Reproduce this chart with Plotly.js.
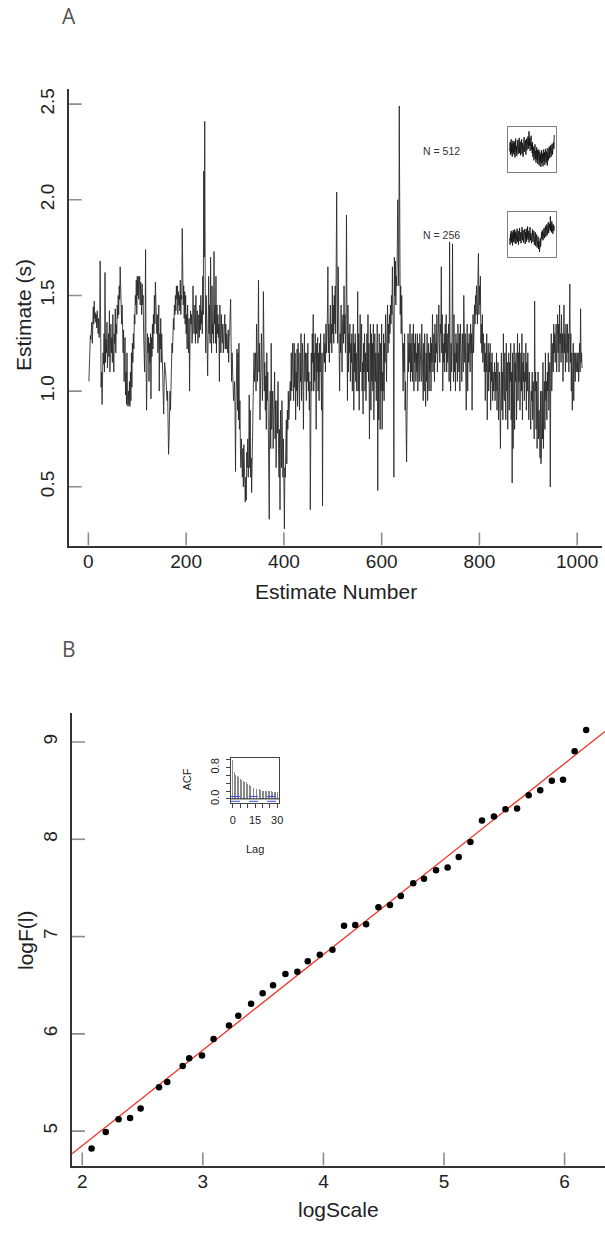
<!DOCTYPE html>
<html>
<head>
<meta charset="utf-8">
<script src="https://cdn.plot.ly/plotly-3.0.1.min.js"></script>
<style>
  html, body { margin: 0; padding: 0; background: #fff; }
  #chart { width: 605px; height: 1237px; }
</style>
</head>
<body>
<div id="chart"></div>
<script>
// ---------- Panel A: estimates over time ----------
const estimates = [
1.05,1.15,1.22,1.29,1.27,1.30,1.36,1.25,1.40,1.44,
1.35,1.47,1.38,1.41,1.36,1.40,1.33,1.42,1.35,1.30,
1.38,1.28,1.32,1.68,1.30,1.02,1.10,0.93,1.12,1.20,
1.14,1.30,1.10,1.62,1.15,1.27,1.20,1.36,1.12,1.24,
1.30,1.18,1.42,1.10,1.25,1.35,1.20,1.28,1.15,1.40,
1.22,1.10,1.30,1.25,1.43,1.20,1.35,1.30,1.45,1.38,
1.50,1.40,1.55,1.48,1.65,1.52,1.40,1.35,1.45,1.30,
1.20,1.32,1.05,1.15,1.28,0.98,1.10,0.93,1.20,0.95,
0.92,1.00,0.93,1.05,0.92,1.10,0.95,1.20,1.02,1.25,
1.15,1.30,1.22,1.40,1.35,1.50,1.45,1.58,1.40,1.60,
1.50,1.60,1.48,1.55,1.60,1.45,1.57,1.52,1.40,1.56,
1.45,1.50,1.30,1.20,1.10,1.35,1.74,1.15,0.90,1.10,
1.30,1.20,1.28,1.05,1.25,1.15,1.30,0.96,1.28,1.18,
1.35,1.22,1.40,1.30,1.50,1.35,1.57,1.45,1.50,1.30,
1.40,1.20,1.25,1.45,1.00,1.30,1.22,1.38,1.15,1.30,
1.20,1.15,1.10,0.88,1.05,1.15,1.12,1.10,1.00,1.05,
0.95,1.00,0.90,0.67,0.75,0.85,1.00,0.90,1.10,1.05,
1.25,1.20,1.30,1.38,1.32,1.45,1.40,1.50,1.42,1.55,
1.48,1.55,1.40,1.52,1.45,1.50,1.42,1.58,1.40,1.50,
1.48,1.85,1.50,1.45,1.55,1.38,1.52,1.35,1.50,1.30,
1.40,1.22,1.45,1.30,1.20,1.38,1.00,1.30,1.42,1.35,
1.40,1.25,1.30,1.55,1.38,1.30,1.35,1.45,1.25,1.50,
1.30,1.38,1.42,1.25,1.35,1.40,1.28,1.45,1.32,1.50,
1.35,1.42,1.30,1.60,1.40,2.15,1.70,2.41,1.60,1.20,
1.50,1.25,1.32,1.08,1.30,1.60,1.30,1.45,1.25,1.70,
1.40,1.20,1.55,1.30,1.35,1.25,1.73,1.35,1.45,1.25,
1.60,1.20,1.45,1.30,1.40,1.28,1.35,1.05,1.45,1.30,
1.20,1.40,1.30,1.25,1.35,1.20,1.30,1.28,1.40,1.22,
1.35,1.22,1.30,1.25,1.20,1.32,1.15,1.28,1.30,1.40,
1.48,1.25,1.05,1.20,1.10,1.15,0.95,1.00,1.05,0.90,
0.58,0.95,1.05,1.22,0.90,1.20,0.85,1.25,0.80,0.95,
0.70,0.60,0.75,0.65,0.55,0.70,0.50,0.72,0.60,0.45,
0.42,0.55,0.43,0.68,0.60,0.75,0.55,0.62,0.98,0.60,
0.90,0.55,0.65,0.47,0.70,0.95,1.00,1.10,1.20,1.05,
1.10,1.20,1.00,1.35,1.15,1.05,1.20,1.58,1.10,1.25,
0.85,1.10,1.00,1.30,1.15,0.95,1.05,1.52,1.10,1.00,
1.15,0.90,1.08,0.80,1.20,0.95,1.10,0.70,0.85,0.33,
0.85,1.00,0.70,1.25,0.80,0.95,1.00,0.70,0.90,0.85,
1.10,0.75,0.95,0.60,0.85,0.95,0.78,1.05,0.70,0.55,
0.80,0.38,0.90,0.80,0.60,0.95,0.70,0.55,0.75,0.45,
0.28,0.60,0.55,0.75,0.85,0.62,0.90,0.80,1.00,0.85,
0.90,1.00,1.05,0.95,1.20,1.00,1.10,1.25,1.05,0.95,
1.25,1.02,1.20,0.85,1.10,1.00,1.22,0.92,1.25,1.08,
1.15,0.90,1.20,1.05,1.30,0.95,1.10,1.25,1.00,0.80,
1.15,1.30,1.05,1.20,1.10,0.95,1.20,1.05,1.25,1.00,
1.10,0.90,1.05,0.38,1.10,1.20,1.00,1.30,1.15,1.40,
1.00,1.20,1.05,1.30,1.15,0.80,1.25,1.10,1.28,1.00,
1.20,0.95,1.25,1.10,1.30,1.05,0.90,1.20,0.40,1.10,
1.20,1.30,1.15,1.25,1.10,1.35,1.20,1.28,1.40,1.65,
1.20,1.35,1.15,1.30,1.45,1.25,1.35,1.20,1.55,1.30,
1.45,1.25,1.50,1.35,1.55,1.30,1.60,2.04,1.50,1.25,
1.65,1.40,1.25,1.00,1.30,1.20,1.45,1.30,1.10,1.35,
1.40,1.25,1.55,1.30,1.40,1.20,1.35,1.92,1.30,0.95,
1.45,1.10,1.30,1.20,1.35,1.05,1.25,1.15,1.30,1.00,
1.20,1.35,0.90,1.25,1.10,1.30,1.05,1.20,1.00,1.15,
1.52,1.00,1.30,0.90,1.25,1.40,1.10,1.20,1.35,1.00,
1.15,0.88,1.25,1.10,1.30,1.00,1.20,0.95,1.15,1.30,
1.10,1.40,1.05,1.25,0.75,1.20,1.35,0.90,1.30,1.05,
1.25,1.00,1.35,0.85,1.15,1.30,1.05,1.20,0.95,1.10,
1.35,0.48,1.20,0.85,1.30,1.10,0.80,1.25,1.00,1.35,
0.80,1.10,1.00,1.30,0.95,1.25,1.15,1.40,1.20,1.05,
1.30,1.45,1.20,1.35,1.25,1.40,1.30,1.45,1.35,1.50,
1.40,1.65,1.45,1.30,0.55,1.70,1.50,1.68,1.45,1.60,
1.55,1.75,2.00,1.70,1.55,2.49,1.60,1.40,1.55,1.30,
1.50,1.20,1.35,1.00,1.25,1.10,1.30,0.90,1.05,0.80,
0.63,0.90,1.20,1.30,1.10,1.25,1.15,1.35,1.05,1.25,
1.10,1.30,1.05,1.20,1.35,1.00,1.25,1.15,1.30,1.05,
1.20,1.10,1.30,1.00,1.25,1.15,1.05,1.30,1.15,1.20,
1.05,1.35,1.10,1.20,0.95,1.25,1.00,1.30,1.15,0.92,
1.20,1.05,1.30,0.95,1.15,1.25,1.00,1.20,1.10,1.28,
1.00,1.25,1.15,1.40,1.10,1.20,1.30,1.05,1.35,1.15,
1.25,1.20,1.40,1.10,1.30,1.20,1.45,1.25,1.15,1.35,
1.30,1.65,1.20,1.40,1.00,1.25,1.15,1.30,1.10,1.35,
1.20,1.40,1.10,1.30,1.15,1.25,1.35,1.05,1.78,1.20,
1.00,1.25,1.10,1.30,1.77,1.20,1.05,1.40,1.10,1.20,
1.00,1.30,1.15,1.25,1.05,1.35,1.20,1.10,1.30,1.00,
1.35,1.15,1.25,1.05,1.30,1.20,1.10,1.50,1.25,1.15,
1.30,1.10,0.90,1.20,1.35,1.00,1.25,1.15,1.30,1.20,
1.10,1.35,1.20,1.30,0.90,1.25,1.40,1.20,1.30,1.45,
1.35,1.50,1.40,1.55,1.45,1.35,1.60,1.72,1.40,1.55,
1.45,1.60,1.25,1.35,1.20,1.40,1.15,1.30,1.20,1.10,
1.25,0.95,1.20,1.10,1.30,0.85,1.15,1.25,1.00,1.20,
1.10,1.25,0.90,1.15,1.05,1.20,0.95,1.10,1.00,1.05,
1.15,0.95,1.10,1.00,1.20,0.90,1.05,1.15,0.85,1.00,
1.10,0.95,0.70,1.00,1.20,0.90,1.10,0.85,1.30,1.00,
0.95,1.20,1.10,0.85,1.25,1.00,1.15,0.80,1.10,1.20,
0.90,1.15,1.05,1.25,0.85,1.10,0.52,1.20,0.70,1.00,
1.25,0.80,1.15,1.05,1.20,0.85,1.10,1.30,0.95,1.20,
1.05,1.25,0.90,1.10,1.20,1.00,1.30,0.85,1.15,1.05,
1.20,0.95,1.10,1.05,1.25,0.90,1.15,1.00,1.20,1.05,
0.85,1.10,1.00,1.05,0.80,1.00,0.95,1.10,0.85,1.05,
1.00,0.75,1.47,1.00,1.10,0.80,1.05,0.70,0.95,1.10,
0.75,0.90,0.80,0.65,1.00,0.62,0.70,1.00,0.75,1.15,
0.70,0.95,1.05,0.80,1.20,0.95,1.05,0.85,1.10,1.00,
1.20,0.90,1.05,1.15,0.50,1.10,1.30,1.00,1.15,1.25,
1.10,1.35,1.20,1.30,1.15,1.25,1.35,1.10,1.30,1.40,
1.20,1.35,1.10,1.45,1.25,1.30,1.15,1.40,1.20,1.30,
1.05,1.25,1.45,1.20,1.30,1.10,1.35,1.25,1.15,1.35,
1.20,1.30,1.10,1.25,1.56,1.15,1.30,1.00,1.20,0.90,
1.10,1.25,0.95,1.20,1.15,1.05,1.20,1.10,1.15,1.20,
1.10,1.20,1.05,1.15,1.25,1.10,1.43,1.15,1.20,1.12
];
const estimateNumber = estimates.map((_, i) => i + 1);
const xTicksA = [0, 200, 400, 600, 800, 1000];
const yTicksA = [0.5, 1.0, 1.5, 2.0, 2.5];
const yTickTextA = ["0.5", "1.0", "1.5", "2.0", "2.5"];

// mini insets (sub-series, arbitrary units)
const sub512 = [
0.45,0.70,0.35,0.62,0.78,0.40,0.66,0.30,0.58,0.74,0.42,0.68,0.36,0.72,0.50,0.28,
0.64,0.80,0.44,0.60,0.32,0.70,0.52,0.76,0.38,0.66,0.48,0.82,0.40,0.58,0.72,0.34,
0.62,0.46,0.78,0.38,0.68,0.54,0.30,0.72,0.60,0.84,0.44,0.66,0.50,0.76,0.36,0.64,
0.80,0.48,0.70,0.58,0.86,0.52,0.74,1.00,0.60,0.82,0.46,0.72,0.56,0.88,0.50,0.66,
0.40,0.70,0.30,0.58,0.44,0.20,0.52,0.36,0.64,0.24,0.46,0.14,0.40,0.56,0.22,0.48,
0.10,0.38,0.26,0.50,0.06,0.32,0.44,0.16,0.36,0.02,0.30,0.48,0.12,0.40,0.22,0.04,
0.34,0.50,0.18,0.42,0.08,0.36,0.26,0.52,0.14,0.44,0.30,0.06,0.40,0.54,0.20,0.46,
0.32,0.58,0.26,0.50,0.38,0.62,0.30,0.56,0.44,0.66,0.36,0.60,0.48,0.70,0.52,0.90
];
const sub256 = [
0.40,0.22,0.52,0.34,0.60,0.28,0.46,0.56,0.20,0.44,0.62,0.30,0.50,0.38,0.64,0.26,
0.48,0.58,0.24,0.54,0.36,0.66,0.30,0.46,0.60,0.22,0.50,0.40,0.68,0.32,0.56,0.44,
0.26,0.58,0.42,0.70,0.34,0.52,0.62,0.28,0.48,0.36,0.64,0.46,0.24,0.56,0.40,0.66,
0.30,0.52,0.44,0.72,0.36,0.60,0.48,0.28,0.62,0.40,0.70,0.34,0.54,0.46,0.26,0.58,
0.42,0.64,0.30,0.50,0.38,0.60,0.22,0.46,0.34,0.56,0.18,0.40,0.28,0.50,0.14,0.36,
0.24,0.44,0.10,0.32,0.20,0.02,0.28,0.40,0.16,0.48,0.30,0.56,0.38,0.62,0.44,0.34,
0.58,0.46,0.68,0.40,0.62,0.52,0.74,0.44,0.66,0.56,0.78,0.48,0.70,0.60,0.84,0.54,
0.72,0.58,0.80,0.64,1.00,0.60,0.76,0.56,0.86,0.62,0.70,0.52,0.78,0.66,0.60,0.74
];
const subLabels = ["N = 512", "N = 256"];

// ---------- Panel B: fluctuation function ----------
const logScale = [2.077,2.195,2.301,2.397,2.484,2.637,2.705,2.833,2.887,2.993,
3.089,3.217,3.294,3.400,3.496,3.582,3.685,3.784,3.870,3.970,
4.075,4.171,4.264,4.354,4.456,4.552,4.642,4.745,4.834,4.934,
5.030,5.122,5.219,5.315,5.414,5.510,5.606,5.702,5.798,5.894,
5.987,6.083,6.179];
const logF = [4.821,4.992,5.123,5.135,5.234,5.452,5.504,5.671,5.750,5.778,
5.948,6.087,6.187,6.310,6.417,6.500,6.615,6.639,6.746,6.813,
6.865,7.111,7.119,7.127,7.302,7.325,7.417,7.548,7.595,7.683,
7.710,7.817,7.972,8.194,8.234,8.310,8.317,8.452,8.504,8.603,
8.611,8.905,9.123];
const fitIntercept = 2.887;
const fitSlope = 0.982;
const xTicksB = [2, 3, 4, 5, 6];
const yTicksB = [5, 6, 7, 8, 9];

// ACF inset
const acfLag = Array.from({length: 31}, (_, i) => i);
const acfValue = [1.00,0.68,0.62,0.58,0.55,0.52,0.49,0.46,0.44,0.42,
0.39,0.36,0.33,0.31,0.29,0.28,0.26,0.25,0.24,0.22,
0.21,0.20,0.20,0.20,0.19,0.19,0.20,0.18,0.17,0.17,0.18];
const acfConf = 0.062;

// ---------- layout helpers ----------
const W = 605, H = 1237;
const px = v => v / W;
const py = v => 1 - v / H;

const FONT = "Liberation Sans, Arial, sans-serif";
const INK = "#222";
const TICK_LEN = 13;

const domA = {x: [68.7, 602], y: [88.8, 545.5]};
const domB = {x: [72, 605], y: [713.4, 1165.5]};

const xRangeA = [-40.3, 1050.8];
const yRangeA = [0.193, 2.58];
const xRangeB = [1.915, 6.335];
const yRangeB = [4.647, 9.294];

const mainAxis = {
  showgrid: false, zeroline: false, showline: true, linecolor: "#333", linewidth: 2,
  ticks: "", tickfont: {family: FONT, size: 19, color: INK}, layer: "above traces"
};
const blankAxis = {showgrid:false, zeroline:false, showticklabels:false, ticks:"",
  showline:true, mirror:true, linecolor:"#808080", linewidth:1};

function label(text, x, y, size, opts) {
  return Object.assign({text: text, xref: "paper", yref: "paper", x: px(x), y: py(y),
    xanchor: "center", yanchor: "middle", showarrow: false,
    font: {family: FONT, size: size, color: INK}}, opts || {});
}

// inward tick marks (R style) drawn as a line trace at each axis' tick values
function inwardTickTrace(xname, yname, xticks, yticks, xr, yr, dom) {
  const dy = TICK_LEN * (yr[1] - yr[0]) / (dom.y[1] - dom.y[0]);
  const dx = TICK_LEN * (xr[1] - xr[0]) / (dom.x[1] - dom.x[0]);
  const xs = [], ys = [];
  xticks.forEach(v => { xs.push(v, v, null); ys.push(yr[0], yr[0] + dy, null); });
  yticks.forEach(v => { xs.push(xr[0], xr[0] + dx, null); ys.push(v, v, null); });
  return {x: xs, y: ys, xaxis: xname, yaxis: yname, type: "scatter", mode: "lines",
    line: {color: "#8c8c8c", width: 1.6}, cliponaxis: false, hoverinfo: "skip", connectgaps: false};
}

const traces = [
  {x: estimateNumber, y: estimates, xaxis: "x", yaxis: "y", type: "scatter", mode: "lines",
   line: {color: "#262626", width: 0.85}, hoverinfo: "skip"},
  inwardTickTrace("x", "y", xTicksA, yTicksA, xRangeA, yRangeA, domA),
  {x: sub512.map((_, i) => i + 1), y: sub512, xaxis: "x2", yaxis: "y2", type: "scatter", mode: "lines",
   line: {color: "#111", width: 0.9}, hoverinfo: "skip"},
  {x: sub256.map((_, i) => i + 1), y: sub256, xaxis: "x3", yaxis: "y3", type: "scatter", mode: "lines",
   line: {color: "#111", width: 0.9}, hoverinfo: "skip"},
  {x: xRangeB, y: xRangeB.map(v => fitIntercept + fitSlope * v), xaxis: "x4", yaxis: "y4",
   type: "scatter", mode: "lines", line: {color: "#ee3324", width: 1.3}, hoverinfo: "skip"},
  {x: logScale, y: logF, xaxis: "x4", yaxis: "y4", type: "scatter", mode: "markers",
   marker: {color: "#000", size: 6.5}, hoverinfo: "skip"},
  inwardTickTrace("x4", "y4", xTicksB, yTicksB, xRangeB, yRangeB, domB),
  {x: acfLag, y: acfValue, xaxis: "x5", yaxis: "y5", type: "bar", width: 0.6,
   marker: {color: "#8a8a8a", line: {width: 0}}, hoverinfo: "skip"}
];

const layout = {
  width: W, height: H,
  margin: {l: 0, r: 0, t: 0, b: 0},
  paper_bgcolor: "#fff", plot_bgcolor: "rgba(0,0,0,0)",
  showlegend: false,
  xaxis: Object.assign({}, mainAxis, {domain: [px(domA.x[0]), px(domA.x[1])], range: xRangeA, anchor: "y",
    tickvals: xTicksA, ticklabelstandoff: -2}),
  yaxis: Object.assign({}, mainAxis, {domain: [py(domA.y[1]), py(domA.y[0])], range: yRangeA, anchor: "x",
    tickvals: yTicksA, ticktext: yTickTextA, tickangle: -90, ticklabelstandoff: 5}),
  xaxis2: Object.assign({}, blankAxis, {domain: [px(508), px(556)], range: [-4, sub512.length + 5], anchor: "y2"}),
  yaxis2: Object.assign({}, blankAxis, {domain: [py(172), py(127)], range: [-0.12, 1.12], anchor: "x2"}),
  xaxis3: Object.assign({}, blankAxis, {domain: [px(508), px(556)], range: [-4, sub256.length + 5], anchor: "y3"}),
  yaxis3: Object.assign({}, blankAxis, {domain: [py(257), py(212)], range: [-0.12, 1.12], anchor: "x3"}),
  xaxis4: Object.assign({}, mainAxis, {domain: [px(domB.x[0]), 1], range: xRangeB, anchor: "y4",
    tickvals: xTicksB, ticklabelstandoff: -2}),
  yaxis4: Object.assign({}, mainAxis, {domain: [py(domB.y[1]), py(domB.y[0])], range: yRangeB, anchor: "x4",
    tickvals: yTicksB, tickangle: -90, ticklabelstandoff: 5}),
  xaxis5: {domain: [px(231), px(279)], range: [-1.2, 31.2], anchor: "y5",
    showgrid: false, zeroline: false, showline: true, mirror: true, linecolor: "#444", linewidth: 1,
    ticks: "outside", ticklen: 4, tickcolor: "#444", tickwidth: 1,
    tickvals: [0, 5, 10, 15, 20, 25, 30], ticktext: ["0", "", "", "15", "", "", "30"],
    tickfont: {family: FONT, size: 11, color: INK}, ticklabelstandoff: 3},
  yaxis5: {domain: [py(803), py(758)], range: [-0.105, 1.043], anchor: "x5",
    showgrid: false, zeroline: false, showline: true, mirror: true, linecolor: "#444", linewidth: 1,
    ticks: "outside", ticklen: 4, tickcolor: "#444", tickwidth: 1,
    tickvals: [0, 0.2, 0.4, 0.6, 0.8, 1.0], ticktext: ["0.0", "", "", "", "0.8", ""],
    tickangle: -90, tickfont: {family: FONT, size: 11, color: INK}, ticklabelstandoff: 3},
  bargap: 0,
  shapes: [
    {type: "line", xref: "x5 domain", yref: "y5", x0: 0, x1: 1, y0: 0, y1: 0, line: {color: "#222", width: 1}},
    {type: "line", xref: "x5 domain", yref: "y5", x0: 0, x1: 1, y0: acfConf, y1: acfConf, line: {color: "#3b4cff", width: 1, dash: "dash"}},
    {type: "line", xref: "x5 domain", yref: "y5", x0: 0, x1: 1, y0: -acfConf, y1: -acfConf, line: {color: "#3b4cff", width: 1, dash: "dash"}}
  ],
  annotations: [
    label("A", 69, 16, 21, {font: {family: "Open Sans, sans-serif", size: 21, color: "#555"}}),
    label("B", 68.5, 648.5, 21, {font: {family: "Open Sans, sans-serif", size: 21, color: "#555"}}),
    label("Estimate (s)", 23, 315, 21, {textangle: -90}),
    label("Estimate Number", 336, 591, 21),
    label("logF(l)", 25.5, 939.5, 21, {textangle: -90}),
    label("logScale", 338, 1209, 21),
    label(subLabels[0], 421, 151.5, 10.5, {xanchor: "left", font: {family: FONT, size: 10.5, color: "#333"}}),
    label(subLabels[1], 421, 234.7, 10.5, {xanchor: "left", font: {family: FONT, size: 10.5, color: "#333"}}),
    label("ACF", 187, 779.6, 11, {textangle: -90}),
    label("Lag", 255, 849, 11)
  ]
};

Plotly.newPlot("chart", traces, layout, {displayModeBar: false, staticPlot: true});
</script>
</body>
</html>
